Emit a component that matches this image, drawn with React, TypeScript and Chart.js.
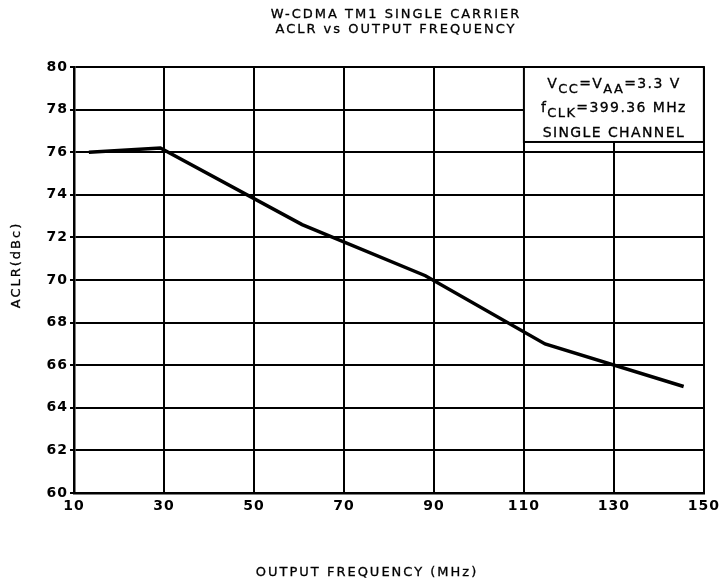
import React, { useEffect, useRef } from "react";
import { Chart, registerables } from "chart.js";
Chart.register(...registerables);

const titleLines = ["W-CDMA TM1 SINGLE CARRIER", "ACLR vs OUTPUT FREQUENCY"];
const xAxisTitle = "OUTPUT FREQUENCY (MHz)";
const yAxisTitle = "ACLR(dBc)";
const xTickValues = [10, 30, 50, 70, 90, 110, 130, 150];
const yTickValues = [60, 62, 64, 66, 68, 70, 72, 74, 76, 78, 80];
const freqMHz = [13.3, 29.2, 60.7, 88.1, 114.7, 145.5];
const aclrDbc = [76.0, 76.2, 72.6, 70.2, 67.0, 65.0];
// note box lines: [text, isSubscript]
const noteLine1: [string, boolean][] = [["V", false], ["CC", true], ["=V", false], ["AA", true], ["=3.3 V", false]];
const noteLine2: [string, boolean][] = [["f", false], ["CLK", true], ["=399.36 MHz", false]];
const noteLine3: [string, boolean][] = [["SINGLE CHANNEL", false]];

const FONT = "'DejaVu Sans', sans-serif";

function boldText(ctx: CanvasRenderingContext2D, t: string, x: number, y: number) {
  ctx.fillText(t, x, y);
  ctx.strokeText(t, x, y);
}

const textPlugin = {
  id: "customTexts",
  beforeUpdate(chart: any) {
    chart.ctx.letterSpacing = "1px";
  },
  beforeDraw(chart: any) {
    const ctx = chart.ctx;
    ctx.save();
    ctx.fillStyle = "#fff";
    ctx.fillRect(0, 0, chart.width, chart.height);
    ctx.restore();
    ctx.letterSpacing = "1px";
  },
  afterDraw(chart: any) {
    const ctx = chart.ctx;
    const area = chart.chartArea;
    const xs = chart.scales.x;
    const ys = chart.scales.y;
    ctx.save();
    ctx.letterSpacing = "2px";
    ctx.fillStyle = "#000";
    ctx.strokeStyle = "#000";
    ctx.lineWidth = 0.3;
    ctx.textAlign = "center";
    ctx.textBaseline = "middle";
    ctx.font = `13px ${FONT}`;
    boldText(ctx, titleLines[0], 396, 15);
    boldText(ctx, titleLines[1], 396, 30);
    boldText(ctx, xAxisTitle, 367, 573);
    ctx.save();
    ctx.translate(17, 265);
    ctx.rotate(-Math.PI / 2);
    boldText(ctx, yAxisTitle, 0, 0);
    ctx.restore();

    // note box
    const bx = xs.getPixelForValue(110);
    const by = area.top;
    const bw = area.right - bx;
    const bh = ys.getPixelForValue(76.48) - by;
    ctx.fillStyle = "#fff";
    ctx.fillRect(bx, by, bw, bh);
    ctx.strokeStyle = "#000";
    ctx.lineWidth = 2;
    ctx.strokeRect(bx, by, bw, bh);

    ctx.fillStyle = "#000";
    ctx.lineWidth = 0.3;
    ctx.textAlign = "left";
    ctx.letterSpacing = "1.4px";
    const big = `14px ${FONT}`;
    const small = `13px ${FONT}`;
    const drawLine = (parts: [string, boolean][], y: number) => {
      let total = 0;
      for (const [t, sub] of parts) {
        ctx.font = sub ? small : big;
        total += ctx.measureText(t).width;
      }
      let x = bx + bw / 2 - total / 2;
      for (const [t, sub] of parts) {
        ctx.font = sub ? small : big;
        boldText(ctx, t, x, sub ? y + 6 : y);
        x += ctx.measureText(t).width;
      }
    };
    drawLine(noteLine1, by + 17);
    drawLine(noteLine2, by + 41);
    drawLine(noteLine3, by + 66);
    ctx.restore();
  },
};

export default function App() {
  const ref = useRef<HTMLCanvasElement>(null);
  useEffect(() => {
    document.body.style.margin = "0";
    const canvas = ref.current!;
    const chart = new Chart(canvas, {
      type: "line",
      data: {
        datasets: [
          {
            data: freqMHz.map((f, i) => ({ x: f, y: aclrDbc[i] })),
            borderColor: "#000",
            borderWidth: 3.5,
            pointRadius: 0,
            tension: 0,
            fill: false,
          },
        ],
      },
      options: {
        responsive: false,
        animation: false,
        devicePixelRatio: 1,
        layout: { padding: { top: 67, right: 19, left: 0, bottom: 0 } },
        plugins: { legend: { display: false }, title: { display: false }, tooltip: { enabled: false } },
        scales: {
          x: {
            type: "linear",
            min: 10,
            max: 150,
            afterBuildTicks: (s: any) => {
              s.ticks = xTickValues.map((v) => ({ value: v }));
            },
            afterFit: (s: any) => {
              s.height = 93;
            },
            grid: { color: "#000", lineWidth: 2, tickLength: 0, drawTicks: false },
            border: { color: "#000", width: 2.5 },
            ticks: {
              color: "#000",
              padding: 5,
              maxRotation: 0,
              font: { family: FONT, size: 14, weight: "bold" },
              callback: (v: any) => String(v),
            },
          },
          y: {
            type: "linear",
            min: 60,
            max: 80,
            afterBuildTicks: (s: any) => {
              s.ticks = yTickValues.map((v) => ({ value: v }));
            },
            afterFit: (s: any) => {
              s.width = 74;
            },
            grid: { color: "#000", lineWidth: 2, tickLength: 4 },
            border: { color: "#000", width: 2.5 },
            ticks: {
              color: "#000",
              padding: 2,
              font: { family: FONT, size: 14, weight: "bold" },
              callback: (v: any) => String(v),
            },
          },
        },
      },
      plugins: [textPlugin],
    } as any);
    return () => chart.destroy();
  }, []);
  return (
    <canvas
      ref={ref}
      width={725}
      height={586}
      style={{ display: "block", position: "absolute", left: 0, top: 0, width: 725, height: 586 }}
    />
  );
}
